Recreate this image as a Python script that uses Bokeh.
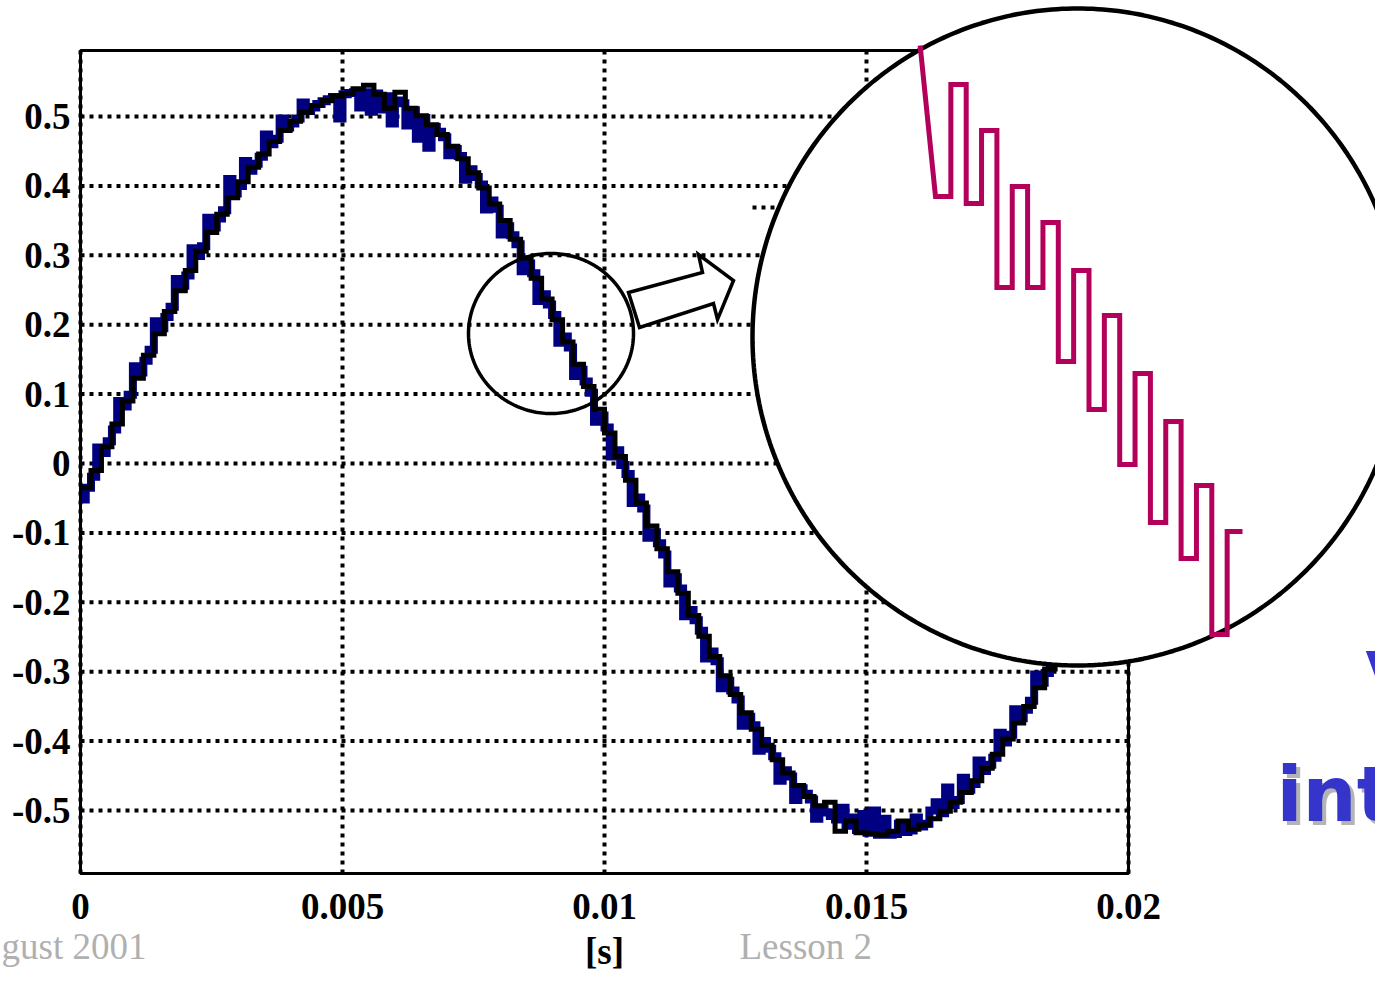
import numpy as np
from bokeh.plotting import figure
from bokeh.models import Range1d, FixedTicker, PolyAnnotation, Label
from bokeh.embed import file_html
from bokeh.resources import INLINE

# ---------------- data ----------------
T_STEP_BLACK = 0.0002
black_levels = [
    -0.035, -0.010, 0.024, 0.057, 0.090, 0.123, 0.156, 0.187, 0.219, 0.249,
    0.278, 0.306, 0.333, 0.359, 0.383, 0.406, 0.427, 0.446, 0.464, 0.480,
    0.493, 0.506, 0.516, 0.523, 0.529, 0.533, 0.540, 0.545, 0.532, 0.512,
    0.535, 0.512, 0.501, 0.488, 0.474, 0.457, 0.439, 0.419, 0.397, 0.374,
    0.350, 0.323, 0.296, 0.267, 0.237, 0.207, 0.175, 0.143, 0.111, 0.078,
    0.044, 0.010, -0.024, -0.057, -0.090, -0.123, -0.156, -0.187, -0.219, -0.249,
    -0.278, -0.306, -0.333, -0.359, -0.383, -0.406, -0.427, -0.446, -0.464, -0.480,
    -0.493, -0.488, -0.530, -0.515, -0.532, -0.533, -0.535, -0.530, -0.515, -0.527,
    -0.521, -0.512, -0.501, -0.488, -0.474, -0.457, -0.439, -0.419, -0.397, -0.374,
    -0.350, -0.323, -0.296, -0.267, -0.237, -0.207, -0.175, -0.143, -0.111, -0.078,
    -0.044,
]

T_STEP_BLUE = 0.0001
blue_levels = [
    -0.052, -0.035, -0.019, 0.023, 0.015, 0.032, 0.049, 0.090, 0.082, 0.099,
    0.140, 0.131, 0.148, 0.164, 0.205, 0.195, 0.211, 0.226, 0.266, 0.256,
    0.271, 0.310, 0.299, 0.313, 0.354, 0.340, 0.353, 0.365, 0.410, 0.389,
    0.400, 0.436, 0.422, 0.432, 0.442, 0.474, 0.460, 0.468, 0.497, 0.484,
    0.490, 0.497, 0.520, 0.508, 0.513, 0.518, 0.522, 0.525, 0.528, 0.497,
    0.532, 0.534, 0.535, 0.513, 0.535, 0.507, 0.533, 0.510, 0.529, 0.490,
    0.523, 0.519, 0.487, 0.509, 0.468, 0.498, 0.455, 0.485, 0.478, 0.470,
    0.444, 0.453, 0.443, 0.409, 0.424, 0.413, 0.402, 0.366, 0.379, 0.367,
    0.330, 0.342, 0.329, 0.316, 0.277, 0.288, 0.274, 0.234, 0.244, 0.229,
    0.214, 0.174, 0.183, 0.167, 0.126, 0.135, 0.118, 0.102, 0.060, 0.069,
    0.052, 0.010, 0.019, -0.002, -0.015, -0.057, -0.049, -0.065, -0.107, -0.099,
    -0.115, -0.131, -0.173, -0.164, -0.180, -0.220, -0.211, -0.226, -0.241, -0.281,
    -0.271, -0.285, -0.324, -0.313, -0.327, -0.340, -0.378, -0.365, -0.377, -0.414,
    -0.400, -0.411, -0.422, -0.457, -0.442, -0.451, -0.485, -0.468, -0.476, -0.484,
    -0.512, -0.497, -0.503, -0.508, -0.513, -0.496, -0.522, -0.510, -0.528, -0.505,
    -0.532, -0.500, -0.535, -0.512, -0.535, -0.534, -0.519, -0.531, -0.529, -0.510,
    -0.523, -0.519, -0.500, -0.488, -0.504, -0.467, -0.492, -0.485, -0.453, -0.470,
    -0.462, -0.428, -0.443, -0.434, -0.424, -0.388, -0.402, -0.391, -0.354, -0.367,
    -0.355, -0.342, -0.304, -0.316, -0.302, -0.263, -0.274, -0.259, -0.244, -0.204,
    -0.214, -0.199, -0.158, -0.167, -0.151, -0.135, -0.093, -0.102, -0.085, -0.044,
    -0.052,
]

x_ticks = [0, 0.005, 0.01, 0.015, 0.02]
x_tick_labels = ["0", "0.005", "0.01", "0.015", "0.02"]
y_ticks = [-0.5, -0.4, -0.3, -0.2, -0.1, 0, 0.1, 0.2, 0.3, 0.4, 0.5]
y_tick_labels = ["-0.5", "-0.4", "-0.3", "-0.2", "-0.1", "0",
                 "0.1", "0.2", "0.3", "0.4", "0.5"]
x_axis_title = "[s]"

# zoomed inset: switching levels of the magnified staircase (inset units)
inset_levels = [15.1, 3.9, 15.8, 8.5, 24.2, 14.1, 24.2, 17.7, 31.6, 22.5,
                36.4, 27.0, 41.9, 32.8, 47.7, 37.6, 51.3, 44.0, 58.9, 48.6]

footer_left = "gust 2001"
footer_right = "Lesson 2"
side_text_1 = "V"
side_text_2 = "inte"

# ---------------- layout ----------------
W, H = 1375, 972
X0, X1 = 0.0, 0.02
Y0, Y1 = -0.5908, 0.5951
# plot-box position in canvas pixels
FL, FR, FT, FB = 80, 1128, 50, 873


def px2x(px):
    return X0 + (px - FL) / (FR - FL) * (X1 - X0)


def px2y(py):
    return Y1 - (py - FT) / (FB - FT) * (Y1 - Y0)


# the frame covers the whole canvas so that the magnifier can leave the box
p = figure(width=W, height=H,
           x_range=Range1d(px2x(0), px2x(W)), y_range=Range1d(px2y(H), px2y(0)),
           output_backend="svg", toolbar_location=None,
           min_border_left=0, min_border_right=0,
           min_border_top=0, min_border_bottom=0)
p.outline_line_color = None
p.background_fill_color = "white"
p.border_fill_color = "white"
p.grid.visible = False

p.xaxis.fixed_location = Y0
p.yaxis.fixed_location = X0
p.xaxis.bounds = (X0, X1)
p.yaxis.bounds = (Y0, Y1)
p.xaxis.ticker = FixedTicker(ticks=x_ticks)
p.yaxis.ticker = FixedTicker(ticks=y_ticks)
p.xaxis.major_label_overrides = {t: s for t, s in zip(x_ticks, x_tick_labels)}
p.yaxis.major_label_overrides = {t: s for t, s in zip(y_ticks, y_tick_labels)}
for ax in (p.xaxis[0], p.yaxis[0]):
    ax.axis_line_color = None
    ax.major_tick_line_color = None
    ax.minor_tick_line_color = None
    ax.major_tick_in = 0
    ax.major_tick_out = 0
    ax.major_label_text_font = "Liberation Serif"
    ax.major_label_text_font_style = "bold"
    ax.major_label_text_font_size = "37px"
    ax.major_label_text_color = "black"
p.yaxis.major_label_standoff = 10
p.xaxis.major_label_standoff = 20
p.xaxis.axis_label = x_axis_title
p.xaxis.axis_label_text_font = "Liberation Serif"
p.xaxis.axis_label_text_font_style = "bold"
p.xaxis.axis_label_text_font_size = "37px"
p.xaxis.axis_label_text_color = "black"
p.xaxis.axis_label_standoff = 9

# dotted grid inside the plot box
GRID = dict(line_color="black", line_width=4, line_dash="4 5")
p.segment(x0=x_ticks, y0=[Y0] * len(x_ticks), x1=x_ticks, y1=[Y1] * len(x_ticks), **GRID)
p.segment(x0=[X0] * len(y_ticks), y0=y_ticks, x1=[X1] * len(y_ticks), y1=y_ticks, **GRID)
# stray dotted fragment next to the magnifier
p.segment(x0=[px2x(752)], y0=[px2y(207)], x1=[px2x(800)], y1=[px2y(207)], **GRID)

# ---------------- curves ----------------
blue_t = np.round(np.arange(len(blue_levels)) * T_STEP_BLUE, 6)
black_t = np.round(np.arange(len(black_levels)) * T_STEP_BLACK, 6)
p.step(blue_t, blue_levels, mode="after", line_color="#000080",
       line_width=8, line_join="miter")
p.step(black_t, black_levels, mode="after", line_color="black",
       line_width=5, line_join="miter")

# ---------------- annotations ----------------
def ellipse_pts(cx, cy, rx, ry, n=240):
    a = np.linspace(0, 2 * np.pi, n, endpoint=False)
    return ([px2x(cx + rx * np.cos(t)) for t in a],
            [px2y(cy + ry * np.sin(t)) for t in a])


def poly(xs, ys, **kw):
    base = dict(fill_color=None, fill_alpha=1.0, line_color="black",
                line_alpha=1.0, line_width=3)
    base.update(kw)
    p.add_layout(PolyAnnotation(xs=list(xs), ys=list(ys), **base))


# plot box
poly([X0, X1, X1, X0], [Y0, Y0, Y1, Y1], line_width=3)

# small circle
sx, sy = ellipse_pts(550.5, 333, 82.5, 80)
poly(sx, sy, line_width=3.5)

# arrow
arrow_px = [(639, 327), (628, 292), (702, 272), (698, 254),
            (733, 280), (717, 319), (713, 303)]
poly([px2x(a) for a, b in arrow_px], [px2y(b) for a, b in arrow_px],
     fill_color="white", line_width=3.5, line_join="miter")

# big magnifier ellipse
bx, by = ellipse_pts(1077, 336.5, 325, 328.5, n=400)
poly(bx, by, fill_color="white", line_width=4.5)

# magnified staircase inside the ellipse
INSET_X0, INSET_DX = 935.0, 15.35
INSET_Y0, INSET_DY = 45.0, 10.0
path = [(INSET_X0 - INSET_DX, INSET_Y0)]
for n, lv in enumerate(inset_levels):
    yy = INSET_Y0 + INSET_DY * lv
    path.append((INSET_X0 + INSET_DX * n, yy))
    path.append((INSET_X0 + INSET_DX * (n + 1), yy))
full = path + path[::-1]
poly([px2x(a) for a, b in full], [px2y(b) for a, b in full],
     line_color="#b3005a", line_width=5, line_join="miter")

# ---------------- texts ----------------
FOOT = dict(text_font="Liberation Serif", text_font_size="37px",
            text_color="#b0b0b0", text_baseline="alphabetic")
p.add_layout(Label(x=px2x(146), y=px2y(946), text=footer_left,
                   text_align="right", **FOOT))
p.add_layout(Label(x=px2x(739), y=px2y(946), text=footer_right,
                   text_align="left", **FOOT))

SIDE = dict(text_font="DejaVu Sans", text_font_style="bold",
            text_font_size="76px", text_align="left", text_baseline="alphabetic")
for txt, xx, yy in ((side_text_1, 1365, 680), (side_text_2, 1276, 794)):
    p.add_layout(Label(x=px2x(xx + 4), y=px2y(yy + 4), text=txt,
                       text_color="#b4b4b4", **SIDE))
    p.add_layout(Label(x=px2x(xx), y=px2y(yy), text=txt,
                       text_color="#3535cc", **SIDE))

open("out.html", "w").write(file_html(p, INLINE))
